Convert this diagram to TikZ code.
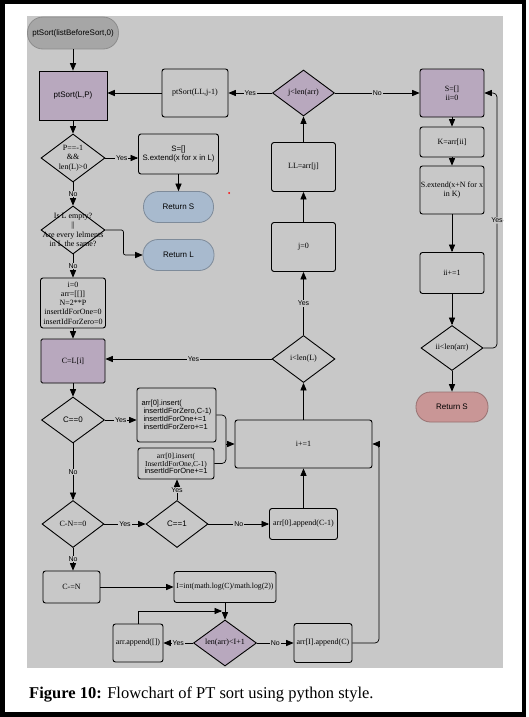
\documentclass[tikz,border=0pt]{standalone}
\usepackage{fontspec}
\setmainfont{Liberation Serif}
\setsansfont{Liberation Sans}
\usepackage{tikz}
\usetikzlibrary{arrows,shapes,positioning}
\definecolor{bggrey}{RGB}{200,200,200}
\definecolor{mauve}{RGB}{184,168,190}
\definecolor{paleblue}{RGB}{168,186,206}
\definecolor{palered}{RGB}{201,150,150}
\definecolor{startgrey}{RGB}{166,166,166}

\begin{document}
\begin{tikzpicture}[x=1pt,y=1pt]
                \tikzstyle{every node}+=[inner sep=1pt, align=center, font=\fontsize{8}{9.3}\selectfont]
                \tikzstyle{box}=[draw, rectangle, rounded corners=2.5pt, line width=0.9pt]
                \tikzstyle{dec}=[draw, diamond, aspect=1.35, inner sep=0pt, line width=0.9pt]
                \tikzstyle{term}=[draw, rectangle, line width=0.8pt, font=\sffamily\fontsize{8}{9}\selectfont]
                \tikzstyle{lab}=[fill=bggrey, inner sep=0.8pt, font=\sffamily\fontsize{7}{8}\selectfont]
                \tikzstyle{link}=[-triangle 45, line width=0.7pt]
                \useasboundingbox (0,0) rectangle (529,-717);
                % frame and background
                \draw [line width=4.5pt] (2.25,-2) rectangle (524,-714.5);
                \fill [bggrey] (27,-16) rectangle (503,-668);
                \fill [red] (229,-193) circle (1);
                % left column
                \node [term, fill=startgrey, draw=black!45, minimum width=91, minimum height=32, rounded corners=15.5] (start) at (73,-33) {ptSort(listBeforeSort,0)};
                \node [draw, fill=mauve, line width=0.8pt, minimum width=68, minimum height=49, font=\sffamily\fontsize{8}{9}\selectfont] (ptLP) at (73,-95.5) {ptSort(L,P)};
                \node [dec, minimum width=64, minimum height=48, label={center:{P==-1\\\&\&\\len(L)>0}}] (pcheck) at (73,-158) {};
                \node [dec, minimum width=64, minimum height=48, label={center:{Is L empty?\\||\\Are every lelments\\in L the same?}}] (empty) at (73,-230) {};
                \node [box, minimum width=65, minimum height=50, font=\fontsize{8}{9.2}\selectfont] (initb) at (73,-303) {i=0\\arr=[[]]\\N=2**P\\insertIdForOne=0\\insertIdForZero=0};
                \node [box, fill=mauve, rounded corners=1.5pt, minimum width=64, minimum height=44] (cli) at (73,-361) {C=L[i]};
                \node [dec, minimum width=63, minimum height=46, font=\sffamily\fontsize{8}{9}\selectfont] (czero) at (73,-420) {C==0};
                \node [dec, minimum width=62, minimum height=47] (cnz) at (73,-524) {C-N==0};
                \node [box, minimum width=57, minimum height=32] (cmn) at (71.5,-587) {C-=N};
                % second column
                \node [box, minimum width=66, minimum height=48] (ptLL) at (195,-93) {ptSort(LL,j-1)};
                \node [box, minimum width=80, minimum height=40, font=\sffamily\fontsize{7.8}{9.5}\selectfont] (sbox) at (178.5,-154) {S=[]\\S.extend(x for x in L)};
                \node [term, fill=paleblue, draw=paleblue!75!black, minimum width=70, minimum height=31, rounded corners=15] (retSa) at (178.5,-207) {Return S};
                \node [term, fill=paleblue, draw=paleblue!75!black, minimum width=71, minimum height=31, rounded corners=15] (retL) at (178.5,-255) {Return L};
                \node [box, align=left, minimum width=79, minimum height=54, font=\sffamily\fontsize{7.5}{7.8}\selectfont] (insz) at (176.5,-415) {arr[0].insert(\\\hspace*{2pt}insertIdForZero,C-1)\\\hspace*{2pt}insertIdForOne+=1\\\hspace*{2pt}insertIdForZero+=1};
                \node [box, minimum width=76, minimum height=31, font=\fontsize{7.5}{7.8}\selectfont] (inso) at (176,-463.5) {arr[0].insert(\\InsertIdForOne,C-1)\\\textsf{insertIdForOne+=1}};
                \node [dec, minimum width=62, minimum height=47, font=\sffamily\fontsize{8}{9}\selectfont] (cone) at (177,-524) {C==1};
                \node [box, inner sep=0pt, minimum width=102, minimum height=31, font=\fontsize{7.8}{9}\selectfont] (ibox) at (225,-587) {I=int(math.log(C)/math.log(2))};
                \node [dec, fill=mauve, minimum width=63, minimum height=46] (lenI) at (225,-643) {len(arr)<I+1};
                \node [box, minimum width=50, minimum height=38] (appE) at (138,-643) {arr.append([])};
                % middle column
                \node [dec, fill=mauve, minimum width=62, minimum height=46] (jlen) at (303.5,-93) {j<len(arr)};
                \node [box, minimum width=64, minimum height=49] (llbox) at (303.5,-167) {LL=arr[j]};
                \node [box, minimum width=64, minimum height=49] (jzero) at (303.5,-247) {j=0};
                \node [dec, minimum width=63, minimum height=47] (ilen) at (303.5,-359) {i<len(L)};
                \node [box, minimum width=137, minimum height=48] (iinc) at (303.5,-444) {i+=1};
                \node [box, minimum width=68, minimum height=31] (appz) at (303.5,-524) {arr[0].append(C-1)};
                \node [box, minimum width=58, minimum height=39] (appI) at (323,-643) {arr[I].append(C)};
                % right column
                \node [box, fill=mauve, minimum width=64, minimum height=48] (sinit) at (452,-93) {S=[]\\ii=0};
                \node [box, minimum width=64, minimum height=30] (kbox) at (452,-142) {K=arr[ii]};
                \node [box, minimum width=64, minimum height=48] (sext) at (452,-190) {S.extend(x+N for x\\in K)};
                \node [box, minimum width=64, minimum height=41] (iiinc) at (452,-273) {ii+=1};
                \node [dec, minimum width=62, minimum height=45] (iilen) at (452,-348) {ii<len(arr)};
                \node [term, fill=palered, draw=palered!75!black, minimum width=72, minimum height=30, rounded corners=14.5] (retSb) at (452,-407) {Return S};
                \coordinate (merge) at (226,-444);
                \coordinate (rx) at (497,-348);
                \coordinate (rb) at (379,-643);
                \coordinate (join) at (222,-611);
                % caption
                \node [anchor=base west, inner sep=0pt, font=\fontsize{16.5}{18}\selectfont] (cap) at (29,-698) {\textbf{Figure 10:} Flowchart of PT sort using python style.};
                % connectors
                \draw [link] (start) -- (ptLP);
                \draw [link] (jlen) -- node [lab] {Yes} (ptLL);
                \draw [link] (ptLL.west) -- (ptLL.west -| ptLP.east);
                \draw [link] (ptLP) -- (pcheck);
                \draw [link] (pcheck.east) -- node [lab] {Yes} (pcheck.east -| sbox.west);
                \draw [link] (sbox) -- (retSa);
                \draw [link] (pcheck) -- node [lab] {No} (empty);
                \draw [link, rounded corners=2pt] (empty.east) -- ++(18,0) |- (retL.west);
                \draw [link] (empty) -- node [lab] {No} (initb);
                \draw [link] (initb) -- (cli);
                \draw [link] (cli) -- (czero);
                \draw [link] (czero.east) -- node [lab] {Yes} (czero.east -| insz.west);
                \draw [line width=0.7pt, rounded corners=4pt] (insz.east) -| (merge);
                \draw [line width=0.7pt, rounded corners=4pt] (inso.east) -| (merge);
                \draw [link] (merge) -- (iinc.west);
                \draw [link] (czero) -- node [lab] {No} (cnz);
                \draw [link] (cnz) -- node [lab] {Yes} (cone);
                \draw [link] (cone.north) -- node [lab] {Yes} (cone.north |- inso.south);
                \draw [link] (cone) -- node [lab] {No} (appz);
                \draw [link] (appz) -- (iinc);
                \draw [link] (iinc) -- (ilen);
                \draw [link] (ilen) -- node [lab] {Yes} (jzero);
                \draw [link] (ilen.west) -- node [lab, pos=0.47] {Yes} (ilen.west -| cli.east);
                \draw [link] (jzero) -- (llbox);
                \draw [link] (llbox) -- (jlen);
                \draw [link] (jlen) -- node [lab] {No} (sinit);
                \draw [link] (sinit) -- (kbox);
                \draw [link] (kbox) -- (sext);
                \draw [link] (sext) -- (iiinc);
                \draw [link] (iiinc) -- (iilen);
                \draw [link] (iilen) -- (retSb);
                \draw [link, rounded corners=4pt] (iilen.east) -- (rx) |- node [lab, pos=0.25] {Yes} (sinit.east);
                \draw [link] (cnz.south) -- node [lab] {No} (cnz.south |- cmn.north);
                \draw [link] (cmn) -- (ibox);
                \draw [link] (ibox) -- (lenI);
                \draw [link] (lenI) -- node [lab] {Yes} (appE);
                \draw [link] (appE.north) |- (join);
                \draw [link] (lenI) -- node [lab] {No} (appI);
                \draw [link, rounded corners=4pt] (appI.east) -- (rb) |- (iinc.east);
\end{tikzpicture}
\end{document}
